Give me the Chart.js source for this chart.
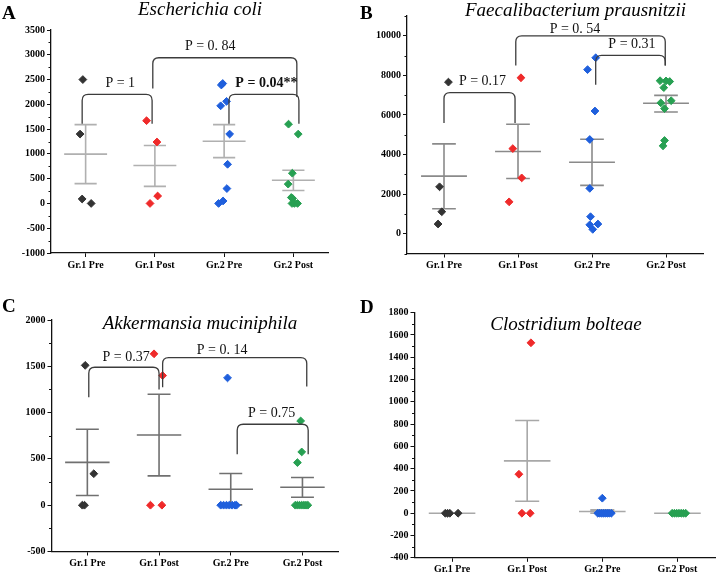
<!DOCTYPE html>
<html><head><meta charset="utf-8">
<script src="https://cdn.jsdelivr.net/npm/chart.js@4.4.1/dist/chart.umd.min.js"></script>
<style>
html,body{margin:0;padding:0;background:#fff;}
#wrap{position:relative;width:720px;height:576px;overflow:hidden;background:#fff;}
.p{position:absolute;width:360px;height:288px;}
canvas{display:block;}
</style></head><body>
<div id="wrap">
<div class="p" style="left:0;top:0"><canvas id="cA" width="360" height="288"></canvas></div>
<div class="p" style="left:360px;top:0"><canvas id="cB" width="360" height="288"></canvas></div>
<div class="p" style="left:0;top:288px"><canvas id="cC" width="360" height="288"></canvas></div>
<div class="p" style="left:360px;top:288px"><canvas id="cD" width="360" height="288"></canvas></div>
</div>
<script>
// ---------- shared ----------
const categories = ['Gr.1 Pre', 'Gr.1 Post', 'Gr.2 Pre', 'Gr.2 Post'];
const groupColors = ['#333333', '#ef2a2a', '#1f5fdc', '#27a052'];

// ---------- A: Escherichia coli ----------
const ecoliTitle = 'Escherichia coli';
const ecoliG1Pre = [2500, 1400, 90, 0];
const ecoliG1PreJit = [-0.04, -0.08, -0.05, 0.08];
const ecoliG1Post = [1670, 1240, 150, 0];
const ecoliG1PostJit = [-0.12, 0.03, 0.04, -0.07];
const ecoliG2Pre = [2420, 2390, 2060, 1970, 1400, 790, 300, 50, 0];
const ecoliG2PreJit = [-0.02, -0.04, 0.035, -0.05, 0.08, 0.05, 0.04, -0.015, -0.08];
const ecoliG2Post = [1600, 1400, 610, 390, 120, 100, 0, 0, 0];
const ecoliG2PostJit = [-0.07, 0.07, -0.015, -0.075, -0.03, -0.01, -0.02, 0.015, 0.06];
const ecoliMean = [995, 765, 1255, 468];
const ecoliUpper = [1590, 1170, 1590, 670];
const ecoliLower = [400, 345, 925, 260];
const ecoliYTicks = [-1000, -500, 0, 500, 1000, 1500, 2000, 2500, 3000, 3500];
const ecoliYMinor = [-750, -250, 250, 750, 1250, 1750, 2250, 2750, 3250];
const ecoliBrFrom = [0.95, 1.97, 3.07];
const ecoliBrTo = [1.96, 4.05, 4.08];
const ecoliBrTop = [2200, 2940, 2200];
const ecoliBrLeftEnd = [1610, 2320, 1610];
const ecoliBrRightEnd = [1610, 2150, 1610];
const ecoliPText = ['P = 1', 'P = 0. 84', 'P = 0.04**'];
const ecoliPX = [1.5, 2.8, 3.61];
const ecoliPY = [2420, 3165, 2420];
const ecoliPBold = [false, false, true];

// ---------- B: Faecalibacterium prausnitzii ----------
const faecTitle = 'Faecalibacterium prausnitzii';
const faecG1Pre = [7660, 2370, 1110, 490];
const faecG1PreJit = [0.06, -0.06, -0.03, -0.08];
const faecG1Post = [7880, 4300, 2820, 1610];
const faecG1PostJit = [0.04, -0.07, 0.05, -0.12];
const faecG2Pre = [8890, 8290, 6200, 4760, 2290, 860, 490, 450, 220];
const faecG2PreJit = [0.05, -0.06, 0.04, -0.03, -0.03, -0.02, 0.08, -0.03, 0.01];
const faecG2Post = [7730, 7720, 7690, 7380, 6720, 6610, 6320, 4710, 4440];
const faecG2PostJit = [-0.08, 0, 0.05, -0.03, 0.07, -0.07, -0.02, -0.02, -0.04];
const faecMean = [2910, 4150, 3610, 6590];
const faecUpper = [4540, 5530, 4770, 6990];
const faecLower = [1260, 2790, 2440, 6150];
const faecYTicks = [0, 2000, 4000, 6000, 8000, 10000];
const faecYMinor = [-1000, 1000, 3000, 5000, 7000, 9000, 11000];
const faecBrFrom = [1.0, 1.97, 3.05];
const faecBrTo = [1.96, 3.99, 3.99];
const faecBrTop = [7130, 10000, 9010];
const faecBrLeftEnd = [5600, 8500, 7530];
const faecBrRightEnd = [5600, 8500, 8500];
const faecPText = ['P = 0.17', 'P = 0. 54', 'P = 0.31'];
const faecPX = [1.52, 2.77, 3.54];
const faecPY = [7700, 10340, 9550];
const faecPBold = [false, false, false];

// ---------- C: Akkermansia muciniphila ----------
const akkTitle = 'Akkermansia muciniphila';
const akkG1Pre = [1510, 340, 0, 0];
const akkG1PreJit = [-0.03, 0.09, -0.07, -0.04];
const akkG1Post = [1635, 1400, 0, 0];
const akkG1PostJit = [-0.07, 0.05, -0.12, 0.04];
const akkG2Pre = [1375, 0, 0, 0, 0, 0, 0, 0];
const akkG2PreJit = [-0.045, -0.14, -0.10, -0.06, -0.02, 0.02, 0.06, 0.08];
const akkG2Post = [910, 575, 460, 0, 0, 0, 0, 0, 0, 0];
const akkG2PostJit = [-0.025, -0.01, -0.07, -0.10, -0.07, -0.04, -0.01, 0.02, 0.05, 0.075];
const akkMean = [462, 758, 172, 194];
const akkUpper = [820, 1198, 342, 299];
const akkLower = [104, 317, 4, 86];
const akkYTicks = [-500, 0, 500, 1000, 1500, 2000];
const akkYMinor = [-250, 250, 750, 1250, 1750];
const akkBrFrom = [1.02, 2.05, 3.09];
const akkBrTo = [2.0, 4.06, 4.08];
const akkBrTop = [1490, 1594, 874];
const akkBrLeftEnd = [1165, 1273, 550];
const akkBrRightEnd = [1250, 1281, 550];
const akkPText = ['P = 0.37', 'P = 0. 14', 'P = 0.75'];
const akkPX = [1.54, 2.88, 3.57];
const akkPY = [1597, 1676, 993];
const akkPBold = [false, false, false];

// ---------- D: Clostridium bolteae ----------
const bolTitle = 'Clostridium bolteae';
const bolG1Pre = [0, 0, 0, 0];
const bolG1PreJit = [-0.09, -0.06, -0.03, 0.08];
const bolG1Post = [1530, 350, 0, 0];
const bolG1PostJit = [0.05, -0.11, -0.07, 0.04];
const bolG2Pre = [135, 0, 0, 0, 0, 0, 0, 0, 0];
const bolG2PreJit = [0, -0.06, -0.035, -0.01, 0.015, 0.04, 0.065, 0.09, 0.12];
const bolG2Post = [0, 0, 0, 0, 0, 0, 0];
const bolG2PostJit = [-0.07, -0.04, -0.01, 0.02, 0.05, 0.08, 0.11];
const bolMean = [0, 470, 15, 0];
const bolUpper = [0, 832, 30, 0];
const bolLower = [0, 108, 0, 0];
const bolYTicks = [-400, -200, 0, 200, 400, 600, 800, 1000, 1200, 1400, 1600, 1800];
const bolYMinor = [-300, -100, 100, 300, 500, 700, 900, 1100, 1300, 1500, 1700];

// ---------- drawing ----------
const SERIF = "'Liberation Serif', 'Times New Roman', serif";

function buildDatasets(groups, jits) {
  return groups.map((vals, g) => ({
    label: categories[g],
    data: vals.map((v, i) => ({ x: g + 1 + jits[g][i], y: v })),
    pointStyle: 'rectRot',
    pointRadius: 3.9,
    pointBorderWidth: 1,
    backgroundColor: groupColors[g],
    borderColor: groupColors[g],
    showLine: false
  }));
}

function makeDecor(cfg) {
  return {
    id: 'decor_' + cfg.id,
    beforeDatasetsDraw(chart) {
      const xs = chart.scales.x, ys = chart.scales.y, ctx = chart.ctx;
      ctx.save();
      ctx.strokeStyle = cfg.errColor;
      ctx.lineWidth = 1.6;
      cfg.mean.forEach((m, i) => {
        const c = i + 1;
        const xc = xs.getPixelForValue(c);
        const hw = xs.getPixelForValue(c + 0.31) - xc;
        const cw = xs.getPixelForValue(c + 0.16) - xc;
        const ym = ys.getPixelForValue(m);
        const yu = ys.getPixelForValue(cfg.upper[i]);
        const yl = ys.getPixelForValue(cfg.lower[i]);
        ctx.beginPath();
        ctx.moveTo(xc - hw, ym); ctx.lineTo(xc + hw, ym);
        ctx.moveTo(xc, yu); ctx.lineTo(xc, yl);
        ctx.moveTo(xc - cw, yu); ctx.lineTo(xc + cw, yu);
        ctx.moveTo(xc - cw, yl); ctx.lineTo(xc + cw, yl);
        ctx.stroke();
      });
      ctx.restore();
    },
    afterDraw(chart) {
      const xs = chart.scales.x, ys = chart.scales.y, ctx = chart.ctx;
      const area = chart.chartArea;
      ctx.save();
      // minor ticks
      ctx.strokeStyle = '#111';
      ctx.lineWidth = 1;
      cfg.minor.forEach(v => {
        const y = Math.round(ys.getPixelForValue(v)) + 0.5;
        ctx.beginPath();
        ctx.moveTo(area.left - 2.5, y);
        ctx.lineTo(area.left, y);
        ctx.stroke();
      });
      // brackets
      ctx.strokeStyle = '#3c3c3c';
      ctx.lineWidth = 1.3;
      (cfg.brFrom || []).forEach((f, i) => {
        const x1 = xs.getPixelForValue(f), x2 = xs.getPixelForValue(cfg.brTo[i]);
        const yt = ys.getPixelForValue(cfg.brTop[i]);
        const yl = ys.getPixelForValue(cfg.brLeftEnd[i]);
        const yr = ys.getPixelForValue(cfg.brRightEnd[i]);
        const r = 6;
        ctx.beginPath();
        ctx.moveTo(x1, yl);
        ctx.lineTo(x1, yt + r);
        ctx.quadraticCurveTo(x1, yt, x1 + r, yt);
        ctx.lineTo(x2 - r, yt);
        ctx.quadraticCurveTo(x2, yt, x2, yt + r);
        ctx.lineTo(x2, yr);
        ctx.stroke();
      });
      // p labels
      ctx.fillStyle = '#111';
      ctx.textAlign = 'center';
      ctx.textBaseline = 'middle';
      (cfg.pText || []).forEach((t, i) => {
        ctx.font = (cfg.pBold[i] ? 'bold ' : '') + '14px ' + SERIF;
        ctx.fillText(t, xs.getPixelForValue(cfg.pX[i]), ys.getPixelForValue(cfg.pY[i]));
      });
      // title
      ctx.font = 'italic 19px ' + SERIF;
      ctx.fillStyle = '#000';
      ctx.fillText(cfg.title, cfg.titleX, cfg.titleY);
      // panel letter
      ctx.font = 'bold 19px ' + SERIF;
      ctx.textAlign = 'left';
      ctx.fillText(cfg.letter, cfg.letterX, cfg.letterY);
      ctx.restore();
    }
  };
}

function makePanel(cfg) {
  const tickFont = { family: SERIF, size: 10, weight: 'bold' };
  new Chart(document.getElementById(cfg.id), {
    type: 'scatter',
    data: { datasets: buildDatasets(cfg.groups, cfg.jits) },
    plugins: [makeDecor(cfg)],
    options: {
      responsive: false,
      animation: false,
      events: [],
      layout: { padding: { left: 0, right: cfg.padR, top: cfg.padT, bottom: 0 } },
      plugins: { legend: { display: false }, tooltip: { enabled: false }, title: { display: false } },
      scales: {
        x: {
          type: 'linear', min: 0.5, max: 4.5, bounds: 'data',
          afterBuildTicks: s => { s.ticks = [1, 2, 3, 4].map(v => ({ value: v })); },
          afterFit: s => { s.height = cfg.xH; },
          ticks: { font: { family: SERIF, size: 10, weight: 'bold' }, color: '#000', padding: 2,
                   maxRotation: 0, autoSkip: false,
                   callback: v => categories[Math.round(v) - 1] },
          grid: { display: true, drawOnChartArea: false, drawTicks: true, tickLength: 4, tickColor: '#111', tickWidth: 1 },
          border: { display: true, color: '#111', width: 1.3 }
        },
        y: {
          type: 'linear', min: cfg.yMin, max: cfg.yMax, bounds: 'data',
          afterBuildTicks: s => { s.ticks = cfg.yTicks.map(v => ({ value: v })); },
          afterFit: s => { s.width = cfg.yW; },
          ticks: { font: tickFont, color: '#000', padding: 2, autoSkip: false, callback: v => String(v) },
          grid: { display: true, drawOnChartArea: false, drawTicks: true, tickLength: 4, tickColor: '#111', tickWidth: 1 },
          border: { display: true, color: '#111', width: 1.3 }
        }
      }
    }
  });
}

makePanel({
  id: 'cA', title: ecoliTitle, titleX: 200, titleY: 10, letter: 'A', letterX: 2, letterY: 14,
  groups: [ecoliG1Pre, ecoliG1Post, ecoliG2Pre, ecoliG2Post],
  jits: [ecoliG1PreJit, ecoliG1PostJit, ecoliG2PreJit, ecoliG2PostJit],
  mean: ecoliMean, upper: ecoliUpper, lower: ecoliLower, errColor: '#b0b0b0',
  yMin: -1000, yMax: 3500, yTicks: ecoliYTicks, minor: ecoliYMinor,
  brFrom: ecoliBrFrom, brTo: ecoliBrTo, brTop: ecoliBrTop, brLeftEnd: ecoliBrLeftEnd, brRightEnd: ecoliBrRightEnd,
  pText: ecoliPText, pX: ecoliPX, pY: ecoliPY, pBold: ecoliPBold,
  yW: 51, padR: 32, padT: 30, xH: 35
});
makePanel({
  id: 'cB', title: faecTitle, titleX: 215.5, titleY: 11, letter: 'B', letterX: 0, letterY: 14,
  groups: [faecG1Pre, faecG1Post, faecG2Pre, faecG2Post],
  jits: [faecG1PreJit, faecG1PostJit, faecG2PreJit, faecG2PostJit],
  mean: faecMean, upper: faecUpper, lower: faecLower, errColor: '#8a8a8a',
  yMin: -1000, yMax: 11000, yTicks: faecYTicks, minor: faecYMinor,
  brFrom: faecBrFrom, brTo: faecBrTo, brTop: faecBrTop, brLeftEnd: faecBrLeftEnd, brRightEnd: faecBrRightEnd,
  pText: faecPText, pX: faecPX, pY: faecPY, pBold: faecPBold,
  yW: 47, padR: 17, padT: 16, xH: 34.5
});
makePanel({
  id: 'cC', title: akkTitle, titleX: 200, titleY: 35.5, letter: 'C', letterX: 2, letterY: 19,
  groups: [akkG1Pre, akkG1Post, akkG2Pre, akkG2Post],
  jits: [akkG1PreJit, akkG1PostJit, akkG2PreJit, akkG2PostJit],
  mean: akkMean, upper: akkUpper, lower: akkLower, errColor: '#707070',
  yMin: -500, yMax: 2000, yTicks: akkYTicks, minor: akkYMinor,
  brFrom: akkBrFrom, brTo: akkBrTo, brTop: akkBrTop, brLeftEnd: akkBrLeftEnd, brRightEnd: akkBrRightEnd,
  pText: akkPText, pX: akkPX, pY: akkPY, pBold: akkPBold,
  yW: 51.5, padR: 21.7, padT: 32, xH: 24.5
});
makePanel({
  id: 'cD', title: bolTitle, titleX: 206, titleY: 37, letter: 'D', letterX: 0, letterY: 20,
  groups: [bolG1Pre, bolG1Post, bolG2Pre, bolG2Post],
  jits: [bolG1PreJit, bolG1PostJit, bolG2PreJit, bolG2PostJit],
  mean: bolMean, upper: bolUpper, lower: bolLower, errColor: '#a8a8a8',
  yMin: -400, yMax: 1800, yTicks: bolYTicks, minor: bolYMinor,
  yW: 54.5, padR: 2, padT: 24.7, xH: 18.2
});
</script>
</body></html>
